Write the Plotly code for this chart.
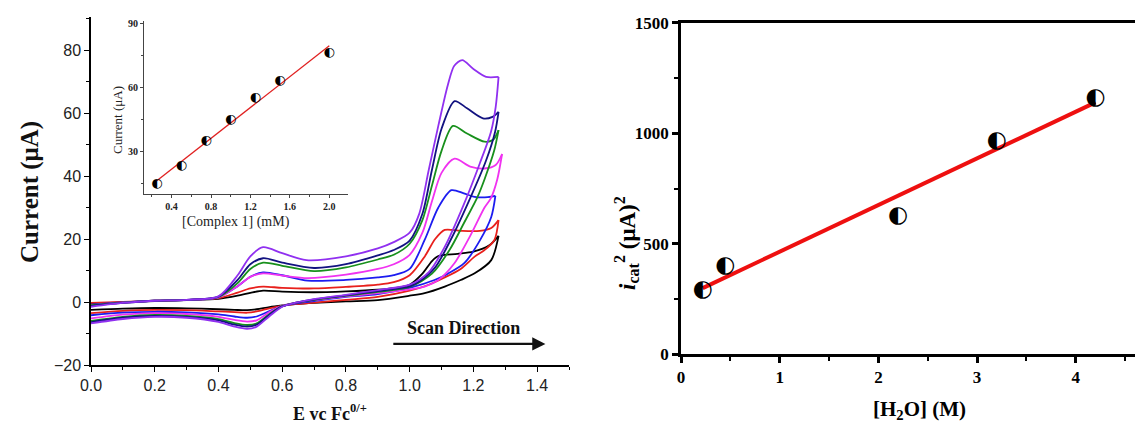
import numpy as np
import plotly.graph_objects as go

W, H = 1135, 428

# ---------------- Cyclic voltammograms (E vs Fc0/+, current in uA) ----------------
BLACK_FWD_E = [0.0, 0.1, 0.2, 0.3, 0.4, 0.46, 0.5, 0.54, 0.6, 0.7, 0.8, 0.9, 0.95, 1.0, 1.04, 1.07, 1.09, 1.15, 1.2, 1.25, 1.279]
BLACK_FWD_I = [-0.5, -0.1, 0.3, 0.6, 1.0, 2.0, 2.9, 3.6, 3.3, 3.1, 3.4, 3.9, 4.4, 5.5, 9.0, 13.0, 14.6, 15.3, 16.0, 18.0, 21.0]
BLACK_REV_E = [1.279, 1.256, 1.204, 1.16, 1.11, 1.047, 1.0, 0.9, 0.8, 0.7, 0.64, 0.6, 0.56, 0.52, 0.49, 0.45, 0.4, 0.3, 0.2, 0.1, 0.0]
BLACK_REV_I = [21.0, 13.3, 9.1, 7.0, 4.9, 2.8, 2.0, 0.6, 0.2, -0.3, -0.7, -1.1, -1.6, -2.3, -2.6, -2.5, -2.3, -2.0, -1.9, -2.1, -2.5]

RED_FWD_E = [0.0, 0.1, 0.2, 0.3, 0.4, 0.46, 0.5, 0.54, 0.6, 0.7, 0.8, 0.9, 0.95, 1.0, 1.047, 1.08, 1.11, 1.16, 1.22, 1.256, 1.279]
RED_FWD_I = [-0.3, 0.0, 0.4, 0.7, 1.2, 3.0, 4.3, 4.9, 4.5, 4.3, 4.8, 5.5, 6.3, 8.5, 14.4, 20.0, 22.9, 22.6, 22.6, 23.5, 26.0]
RED_REV_E = [1.279, 1.266, 1.235, 1.204, 1.16, 1.11, 1.047, 1.0, 0.9, 0.8, 0.7, 0.64, 0.6, 0.56, 0.52, 0.49, 0.45, 0.4, 0.3, 0.2, 0.1, 0.0]
RED_REV_I = [26.0, 19.7, 16.5, 14.4, 10.5, 7.8, 5.0, 3.6, 1.6, 0.7, -0.2, -0.7, -1.2, -2.0, -3.0, -3.4, -3.2, -3.0, -2.6, -2.5, -2.8, -3.5]

BLUE_FWD_E = [0.0, 0.1, 0.2, 0.3, 0.4, 0.46, 0.5, 0.54, 0.6, 0.68, 0.8, 0.9, 0.95, 1.0, 1.047, 1.09, 1.131, 1.17, 1.204, 1.245, 1.269]
BLUE_FWD_I = [-0.8, -0.1, 0.4, 0.7, 1.5, 5.0, 8.0, 9.4, 8.5, 6.8, 7.0, 7.8, 8.5, 10.5, 19.7, 30.0, 35.5, 34.5, 33.4, 33.3, 33.7]
BLUE_REV_E = [1.269, 1.256, 1.22, 1.172, 1.12, 1.078, 1.0, 0.9, 0.8, 0.7, 0.64, 0.6, 0.56, 0.52, 0.49, 0.45, 0.4, 0.3, 0.2, 0.1, 0.0]
BLUE_REV_I = [33.7, 27.0, 19.5, 12.4, 9.0, 7.0, 4.5, 2.5, 1.6, 0.3, -0.5, -1.3, -2.9, -4.6, -5.0, -4.6, -3.9, -3.3, -3.1, -3.4, -4.2]

MAGENTA_FWD_E = [0.0, 0.1, 0.2, 0.3, 0.4, 0.46, 0.5, 0.54, 0.6, 0.68, 0.8, 0.9, 0.95, 1.0, 1.04, 1.07, 1.1, 1.141, 1.19, 1.235, 1.27, 1.29]
MAGENTA_FWD_I = [-1.0, -0.2, 0.4, 0.7, 1.5, 5.0, 8.0, 9.1, 8.4, 7.6, 8.7, 10.5, 12.0, 15.0, 22.0, 32.0, 41.0, 45.5, 43.0, 42.4, 43.5, 47.0]
MAGENTA_REV_E = [1.29, 1.275, 1.255, 1.235, 1.19, 1.141, 1.09, 1.047, 1.0, 0.9, 0.8, 0.7, 0.64, 0.6, 0.56, 0.52, 0.49, 0.45, 0.4, 0.3, 0.2, 0.1, 0.0]
MAGENTA_REV_I = [47.0, 39.0, 33.0, 30.0, 21.0, 12.4, 7.0, 4.9, 4.0, 2.8, 1.8, 0.6, -0.3, -1.2, -3.2, -5.8, -6.2, -5.7, -4.7, -3.8, -3.5, -4.0, -5.2]

GREEN_FWD_E = [0.0, 0.1, 0.2, 0.3, 0.4, 0.46, 0.5, 0.54, 0.6, 0.7, 0.8, 0.9, 0.95, 1.0, 1.04, 1.07, 1.1, 1.136, 1.18, 1.235, 1.262, 1.279]
GREEN_FWD_I = [-1.0, -0.2, 0.4, 0.7, 1.6, 6.0, 10.5, 12.5, 11.5, 9.8, 11.0, 13.5, 15.0, 18.5, 26.0, 37.0, 48.0, 55.9, 53.5, 50.9, 51.5, 54.6]
GREEN_REV_E = [1.279, 1.265, 1.235, 1.213, 1.17, 1.125, 1.07, 1.0, 0.9, 0.8, 0.7, 0.64, 0.6, 0.56, 0.52, 0.49, 0.45, 0.4, 0.3, 0.2, 0.1, 0.0]
GREEN_REV_I = [54.6, 48.0, 39.0, 33.4, 25.0, 16.5, 9.0, 4.8, 3.2, 2.0, 0.7, -0.3, -1.3, -3.8, -6.8, -7.3, -6.7, -5.4, -4.4, -4.1, -4.7, -6.0]

NAVY_FWD_E = [0.0, 0.1, 0.2, 0.3, 0.4, 0.46, 0.5, 0.54, 0.6, 0.7, 0.8, 0.9, 0.95, 1.0, 1.04, 1.07, 1.1, 1.141, 1.18, 1.23, 1.26, 1.279]
NAVY_FWD_I = [-1.2, -0.3, 0.4, 0.7, 1.7, 7.0, 12.0, 13.9, 12.5, 10.8, 12.0, 14.8, 16.5, 19.5, 28.0, 42.0, 55.0, 63.8, 61.5, 58.3, 58.8, 60.4]
NAVY_REV_E = [1.279, 1.268, 1.24, 1.19, 1.13, 1.08, 1.03, 1.0, 0.9, 0.8, 0.7, 0.64, 0.6, 0.56, 0.52, 0.49, 0.45, 0.4, 0.3, 0.2, 0.1, 0.0]
NAVY_REV_I = [60.4, 54.0, 45.0, 33.0, 20.0, 11.0, 6.5, 5.0, 3.5, 2.1, 0.8, -0.3, -1.4, -4.0, -7.2, -7.8, -7.2, -5.8, -4.7, -4.4, -5.0, -6.4]

PURPLE_FWD_E = [0.0, 0.1, 0.2, 0.3, 0.4, 0.46, 0.5, 0.54, 0.6, 0.676, 0.8, 0.9, 0.95, 1.0, 1.03, 1.06, 1.09, 1.12, 1.14, 1.165, 1.2, 1.24, 1.279]
PURPLE_FWD_I = [-1.5, -0.3, 0.4, 0.7, 1.8, 8.5, 14.5, 17.4, 15.5, 13.3, 14.5, 17.0, 19.0, 22.0, 28.0, 42.0, 56.0, 69.0, 75.0, 76.8, 74.0, 71.5, 71.5]
PURPLE_REV_E = [1.279, 1.27, 1.255, 1.22, 1.17, 1.11, 1.06, 1.0, 0.9, 0.8, 0.7, 0.64, 0.6, 0.56, 0.52, 0.49, 0.45, 0.4, 0.3, 0.2, 0.1, 0.0]
PURPLE_REV_I = [71.5, 62.0, 54.0, 44.0, 31.0, 17.5, 9.5, 5.5, 3.8, 2.3, 0.9, -0.3, -1.5, -4.5, -7.8, -8.5, -7.8, -6.3, -5.0, -4.7, -5.4, -6.8]

CV_COLORS = ["#000000", "#e8201c", "#1c1cf0", "#f032f0", "#18901c", "#121280", "#9030f0"]
CV_CURVES = [
    (BLACK_FWD_E, BLACK_FWD_I, BLACK_REV_E, BLACK_REV_I),
    (RED_FWD_E, RED_FWD_I, RED_REV_E, RED_REV_I),
    (BLUE_FWD_E, BLUE_FWD_I, BLUE_REV_E, BLUE_REV_I),
    (MAGENTA_FWD_E, MAGENTA_FWD_I, MAGENTA_REV_E, MAGENTA_REV_I),
    (GREEN_FWD_E, GREEN_FWD_I, GREEN_REV_E, GREEN_REV_I),
    (NAVY_FWD_E, NAVY_FWD_I, NAVY_REV_E, NAVY_REV_I),
    (PURPLE_FWD_E, PURPLE_FWD_I, PURPLE_REV_E, PURPLE_REV_I),
]

# ---------------- Inset: peak current vs [Complex 1] ----------------
COMPLEX_MM = [0.25, 0.5, 0.75, 1.0, 1.25, 1.5, 2.0]
PEAK_CURRENT = [15, 23, 35, 45, 55, 63, 76]

# ---------------- Right: icat^2 vs [H2O] ----------------
WATER_M = [0.22, 0.45, 2.2, 3.2, 4.2]
ICAT_SQ = [288, 400, 626, 962, 1157]

fig = go.Figure()

for color, (fe, fi, re_, ri) in zip(CV_COLORS, CV_CURVES):
    for xs, ys in ((fe, fi), (re_, ri)):
        fig.add_trace(go.Scatter(x=xs, y=ys, mode="lines",
                                 line=dict(color=color, width=1.8, shape="spline", smoothing=0.8),
                                 xaxis="x", yaxis="y", showlegend=False, hoverinfo="skip"))

# inset fit + markers
c1 = np.polyfit(COMPLEX_MM, PEAK_CURRENT, 1)
fx1 = [COMPLEX_MM[0], COMPLEX_MM[-1]]
fig.add_trace(go.Scatter(x=fx1, y=list(np.polyval(c1, fx1)), mode="lines",
                         line=dict(color="#e02020", width=1.3), xaxis="x2", yaxis="y2", showlegend=False))
fig.add_trace(go.Scatter(x=COMPLEX_MM, y=PEAK_CURRENT, mode="text", text=["◐"] * len(COMPLEX_MM),
                         textfont=dict(family="DejaVu Sans", size=13, color="black"),
                         xaxis="x2", yaxis="y2", showlegend=False))

# right fit + markers
c2 = np.polyfit(WATER_M, ICAT_SQ, 1)
fx2 = [WATER_M[0], WATER_M[-1]]
fig.add_trace(go.Scatter(x=fx2, y=list(np.polyval(c2, fx2)), mode="lines",
                         line=dict(color="#ee1010", width=4), xaxis="x3", yaxis="y3", showlegend=False))
fig.add_trace(go.Scatter(x=WATER_M, y=ICAT_SQ, mode="text", text=["◐"] * len(WATER_M),
                         textfont=dict(family="DejaVu Sans", size=23, color="black"),
                         xaxis="x3", yaxis="y3", showlegend=False))

def px_x(p):
    return p / W

def px_y(p):
    return 1 - p / H

sans = "Liberation Sans, Arial, sans-serif"
serif = "Liberation Serif, Times New Roman, serif"

fig.update_layout(
    width=W, height=H, autosize=False,
    margin=dict(l=0, r=0, t=0, b=0, pad=0),
    paper_bgcolor="white", plot_bgcolor="rgba(0,0,0,0)",
    xaxis=dict(domain=[px_x(91), px_x(569)], range=[0, 1.5], anchor="y", automargin=False,
               tickmode="array", tickvals=[0, 0.2, 0.4, 0.6, 0.8, 1.0, 1.2, 1.4],
               ticktext=["0.0", "0.2", "0.4", "0.6", "0.8", "1.0", "1.2", "1.4"],
               showline=True, linecolor="black", linewidth=1.5, ticks="outside", ticklen=5,
               tickwidth=1.3, tickcolor="black",
               minor=dict(tickmode="array", tickvals=[0.1, 0.3, 0.5, 0.7, 0.9, 1.1, 1.3, 1.5],
                          ticks="outside", ticklen=3, tickwidth=1.2, tickcolor="black"),
               showgrid=False, zeroline=False,
               tickfont=dict(family=sans, size=16, color="#222")),
    yaxis=dict(domain=[px_y(365), px_y(17)], range=[-20, 90.5], anchor="x", automargin=False,
               tickmode="array", tickvals=[-20, 0, 20, 40, 60, 80],
               showline=True, linecolor="black", linewidth=1.5, ticks="outside", ticklen=5,
               tickwidth=1.3, tickcolor="black",
               minor=dict(tickmode="array", tickvals=[-10, 10, 30, 50, 70, 90],
                          ticks="outside", ticklen=3, tickwidth=1.2, tickcolor="black"),
               showgrid=False, zeroline=False,
               tickfont=dict(family=sans, size=16, color="#222")),
    xaxis2=dict(domain=[px_x(144), px_x(348)], range=[0.12, 2.19], anchor="y2", automargin=False,
                tickmode="array", tickvals=[0.4, 0.8, 1.2, 1.6, 2.0],
                ticktext=["0.4", "0.8", "1.2", "1.6", "2.0"],
                showline=True, linecolor="#444", linewidth=1, ticks="outside", ticklen=3,
                tickwidth=1, tickcolor="#444",
                minor=dict(tickmode="array", tickvals=[0.2, 0.6, 1.0, 1.4, 1.8],
                           ticks="outside", ticklen=2, tickwidth=1, tickcolor="#444"),
                showgrid=False, zeroline=False,
                tickfont=dict(family=serif, size=10, color="#222", weight="bold")),
    yaxis2=dict(domain=[px_y(194), px_y(21)], range=[10, 91], anchor="x2", automargin=False,
                tickmode="array", tickvals=[30, 60, 90],
                showline=True, linecolor="#444", linewidth=1, ticks="outside", ticklen=3,
                tickwidth=1, tickcolor="#444",
                minor=dict(tickmode="array", tickvals=[15, 45, 75],
                           ticks="outside", ticklen=2, tickwidth=1, tickcolor="#444"),
                showgrid=False, zeroline=False,
                tickfont=dict(family=serif, size=10, color="#222", weight="bold")),
    xaxis3=dict(domain=[px_x(681), 1.0], range=[0, 4.6], anchor="y3", automargin=False,
                tickmode="array", tickvals=[0, 1, 2, 3, 4],
                showline=True, mirror=True, linecolor="black", linewidth=2.5, ticks="outside",
                ticklen=6, tickwidth=2.5, tickcolor="black",
                minor=dict(tickmode="array", tickvals=[0.5, 1.5, 2.5, 3.5, 4.5],
                           ticks="outside", ticklen=4, tickwidth=2, tickcolor="black"),
                showgrid=False, zeroline=False,
                tickfont=dict(family=serif, size=17, color="black", weight="bold")),
    yaxis3=dict(domain=[px_y(354.3), px_y(22.7)], range=[0, 1500], anchor="x3", automargin=False,
                tickmode="array", tickvals=[0, 500, 1000, 1500],
                showline=True, mirror=True, linecolor="black", linewidth=2.5, ticks="outside",
                ticklen=6, tickwidth=2.5, tickcolor="black",
                minor=dict(tickmode="array", tickvals=[250, 750, 1250],
                           ticks="outside", ticklen=4, tickwidth=2, tickcolor="black"),
                showgrid=False, zeroline=False,
                tickfont=dict(family=serif, size=17, color="black", weight="bold")),
)

def label(text, x, y, size, color="#111", angle=0):
    return dict(text=text, x=px_x(x), y=px_y(y), xref="paper", yref="paper",
                xanchor="center", yanchor="middle", textangle=angle, showarrow=False,
                font=dict(family=serif, size=size, color=color))

ann = [
    label("<b>Current (μA)</b>", 30, 192, 25, angle=-90),
    label("<b>E vc Fc<sup>0/+</sup></b>", 330, 412, 18),
    label("Current (μA)", 117, 120, 13, color="#222", angle=-90),
    label("[Complex 1] (mM)", 236, 222, 14, color="#222"),
    label("<b>Scan Direction</b>", 463, 328, 18),
    dict(text="", x=1.426, y=-13.3, xref="x", yref="y", ax=0.944, ay=-13.3, axref="x", ayref="y",
         showarrow=True, arrowhead=2, arrowsize=1.2, arrowwidth=2.2, arrowcolor="#111"),
    label("<b>[H<sub>2</sub>O] (M)</b>", 919, 410, 21, color="black"),
    label("<b><i>i</i><sub>cat</sub><sup>2</sup> (μA)<sup>2</sup></b>", 626, 243, 23, color="black", angle=-90),
]
fig.update_layout(annotations=ann)

fig.write_html("out.html", config={"responsive": False},
               post_script="document.body.style.margin='0';document.body.style.overflow='hidden';")
